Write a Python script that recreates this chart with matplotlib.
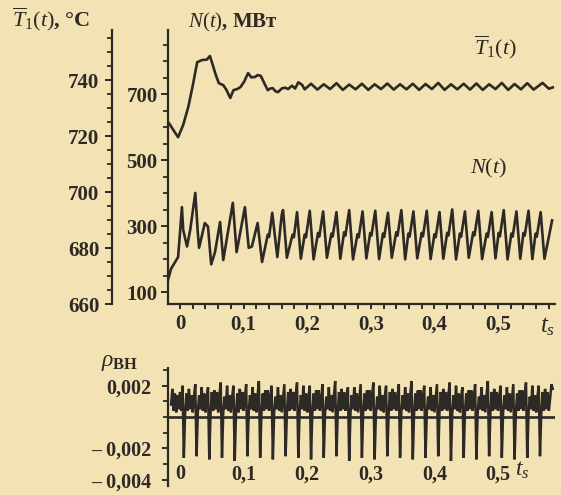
import numpy as np
import matplotlib
matplotlib.use("Agg")
import matplotlib.pyplot as plt
from matplotlib.ticker import MultipleLocator, FixedLocator, FixedFormatter

plt.rcParams['font.family'] = ['Liberation Serif', 'DejaVu Serif']
plt.rcParams['mathtext.fontset'] = 'custom'
plt.rcParams['mathtext.rm'] = 'Liberation Serif'
plt.rcParams['mathtext.it'] = 'Liberation Serif:italic'
plt.rcParams['mathtext.bf'] = 'Liberation Serif:bold'

BG = '#f3e2b3'
INK = '#2d2925'

# ---------------- data ----------------
# mean temperature T1(t), degC
t_T = [-0.017, -0.010, -0.003, 0.005, 0.013, 0.020, 0.027, 0.035, 0.042, 0.047,
       0.052, 0.056, 0.061, 0.068, 0.073, 0.079, 0.084, 0.090, 0.095, 0.101,
       0.107, 0.112, 0.118, 0.122, 0.127, 0.134, 0.138, 0.142, 0.146, 0.150,
       0.154, 0.160, 0.165, 0.170, 0.176, 0.181, 0.186, 0.192, 0.196,
       0.206, 0.216, 0.226, 0.236, 0.246, 0.256, 0.266, 0.276, 0.286, 0.296,
       0.306, 0.316, 0.326, 0.336, 0.346, 0.356, 0.366, 0.376, 0.386, 0.396,
       0.406, 0.416, 0.426, 0.436, 0.446, 0.456, 0.466, 0.476, 0.486, 0.496,
       0.506, 0.516, 0.526, 0.536, 0.546, 0.556, 0.570, 0.580, 0.586]
T_vals = [724.5, 722.0, 719.6, 724.0, 730.4, 738.0, 746.4, 747.2, 747.3, 748.6,
          745.0, 742.0, 738.9, 738.2, 736.5, 733.6, 736.4, 736.8, 737.5, 739.5,
          742.5, 741.0, 741.1, 741.8, 741.5, 738.2, 736.4, 737.0, 737.1, 736.0,
          735.7, 737.0, 737.3, 736.8, 738.0, 737.0, 739.2, 738.3, 736.7,
          738.7, 736.6, 738.5, 736.8, 738.9, 736.5, 738.4, 736.7, 738.7, 736.5,
          738.5, 736.8, 738.8, 736.6, 738.5, 736.7, 738.7, 736.5, 738.6, 736.8,
          739.0, 736.5, 738.5, 736.7, 738.7, 736.6, 738.8, 736.5, 738.5, 736.8,
          739.0, 736.5, 738.6, 736.7, 738.9, 736.6, 739.0, 736.9, 737.4]

# power N(t), MW
t_N = [-0.019, -0.014, -0.003, 0.003, 0.005, 0.011, 0.016, 0.024, 0.028, 0.030,
       0.039, 0.044, 0.049, 0.055, 0.063, 0.068, 0.083, 0.089, 0.102, 0.108,
       0.113, 0.122, 0.129, 0.138, 0.140, 0.145, 0.153, 0.160, 0.162, 0.168,
       0.177, 0.179, 0.184, 0.190,
       0.196, 0.198, 0.204, 0.210, 0.217, 0.219, 0.225, 0.231,
       0.238, 0.240, 0.246, 0.252, 0.258, 0.260, 0.266, 0.272,
       0.279, 0.281, 0.287, 0.293, 0.299, 0.301, 0.307, 0.313,
       0.319, 0.321, 0.327, 0.333, 0.340, 0.342, 0.348, 0.354,
       0.359, 0.361, 0.367, 0.373, 0.380, 0.382, 0.388, 0.394,
       0.400, 0.402, 0.408, 0.414, 0.420, 0.422, 0.428, 0.434,
       0.440, 0.442, 0.448, 0.454, 0.461, 0.463, 0.469, 0.475,
       0.482, 0.484, 0.490, 0.496, 0.501, 0.503, 0.509, 0.515,
       0.521, 0.523, 0.529, 0.535, 0.540, 0.542, 0.548, 0.554,
       0.559, 0.561, 0.567, 0.573, 0.580, 0.585]
N_vals = [137, 172, 207, 358, 289, 239, 289, 401, 280, 235,
          310, 299, 185, 222, 313, 198, 371, 222, 358, 235,
          239, 310, 192, 275, 268, 341, 207, 336, 349, 205,
          275, 267, 343, 202,
          275, 267, 347, 200, 280, 269, 345, 205,
          278, 269, 343, 202, 282, 272, 349, 200,
          276, 267, 345, 203, 280, 272, 347, 201,
          278, 268, 341, 205, 282, 272, 349, 200,
          278, 269, 345, 203, 280, 270, 347, 201,
          276, 267, 343, 202, 280, 272, 351, 200,
          278, 269, 345, 205, 282, 273, 347, 201,
          278, 268, 343, 203, 280, 270, 349, 200,
          278, 269, 345, 202, 280, 272, 347, 201,
          278, 269, 343, 202, 269, 318]

# external reactivity rho_BH (units of 1e-3), sampled every 0.002 s from -0.014 s
rho_t0, rho_dt = -0.014, 0.002
rho_e3 = [
    [0.8, 1.8, 0.4, 1.5, 0.3, 1.4, 0.5, 1.6, 0.4, 2.0],
    [-2.6, 0.2, 1.5, 0.4, 1.8, 0.5, 1.4, 0.3, 1.3, 2.1],
    [-2.5, 0.3, 1.4, 0.5, 1.9, 0.4, 1.5, 0.3, 1.2, 1.9],
    [-2.7, 0.2, 1.6, 0.4, 1.7, 0.5, 1.6, 0.3, 1.4, 2.2],
    [-2.6, 0.3, 1.3, 0.5, 2.0, 0.4, 1.4, 0.3, 1.3, 2.0],
    [-2.8, 0.2, 1.5, 0.3, 1.8, 0.5, 1.6, 0.4, 1.2, 2.1],
    [-2.5, 0.3, 1.4, 0.5, 1.9, 0.4, 1.5, 0.3, 1.4, 2.3],
    [-2.6, 0.2, 1.5, 0.4, 1.7, 0.5, 1.7, 0.4, 1.3, 2.0],
    [-2.7, 0.3, 1.3, 0.5, 1.9, 0.4, 1.4, 0.3, 1.2, 2.1],
    [-2.5, 0.2, 1.6, 0.4, 1.8, 0.5, 1.6, 0.4, 1.4, 2.2],
    [-2.6, 0.3, 1.4, 0.5, 2.0, 0.4, 1.5, 0.3, 1.3, 2.0],
    [-2.7, 0.2, 1.5, 0.4, 1.7, 0.5, 1.7, 0.4, 1.2, 2.1],
    [-2.6, 0.2, 1.3, 0.5, 1.9, 0.4, 1.4, 0.3, 1.4, 2.3],
    [-2.5, 0.3, 1.6, 0.4, 1.8, 0.5, 1.6, 0.4, 1.3, 1.9],
    [-2.8, 0.2, 1.4, 0.5, 1.9, 0.4, 1.5, 0.3, 1.2, 2.1],
    [-2.6, 0.3, 1.5, 0.4, 1.7, 0.5, 1.7, 0.4, 1.4, 2.2],
    [-2.7, 0.2, 1.3, 0.5, 2.0, 0.4, 1.4, 0.3, 1.3, 2.0],
    [-2.5, 0.2, 1.6, 0.4, 1.8, 0.5, 1.6, 0.4, 1.2, 2.1],
    [-2.6, 0.3, 1.4, 0.5, 1.9, 0.4, 1.5, 0.3, 1.4, 2.3],
    [-2.7, 0.2, 1.5, 0.4, 1.7, 0.5, 1.7, 0.4, 1.3, 2.0],
    [-2.6, 0.2, 1.3, 0.5, 1.9, 0.4, 1.4, 0.3, 1.2, 2.1],
    [-2.5, 0.3, 1.6, 0.4, 1.8, 0.5, 1.6, 0.4, 1.4, 2.2],
    [-2.8, 0.2, 1.4, 0.5, 2.0, 0.4, 1.5, 0.3, 1.3, 1.9],
    [-2.6, 0.3, 1.5, 0.4, 1.7, 0.5, 1.7, 0.4, 1.2, 2.1],
    [-2.7, 0.2, 1.3, 0.5, 1.9, 0.4, 1.4, 0.3, 1.4, 2.3],
    [-2.5, 0.2, 1.6, 0.4, 1.8, 0.5, 1.6, 0.4, 1.3, 2.0],
    [-2.6, 0.3, 1.4, 0.5, 1.9, 0.4, 1.5, 0.3, 1.2, 2.1],
    [-2.7, 0.2, 1.5, 0.4, 1.7, 0.5, 1.7, 0.4, 1.4, 2.2],
    [-2.6, 0.3, 1.3, 0.5, 2.0, 0.4, 1.4, 0.3, 1.3, 2.0],
    [-2.5, 0.2, 1.6, 0.4, 1.8, 0.5, 1.6, 0.4, 1.2, 2.1],
    [1.8],
]

x_ticks = [0.0, 0.1, 0.2, 0.3, 0.4, 0.5]
x_tick_labels = ["0", "0,1", "0,2", "0,3", "0,4", "0,5"]
T_ticks = [660, 680, 700, 720, 740]
N_ticks = [100, 300, 500, 700]
rho_ticks = [-0.004, -0.002, 0.002]
rho_tick_labels = ["\u2013 0,004", "\u2013 0,002", "0,002"]

# ---------------- figure ----------------
W, H = 561, 495
fig = plt.figure(figsize=(W / 100, H / 100), dpi=100, facecolor=BG)

def fx(px):
    return px / W

def fy(py):
    return 1 - py / H

XLIM = (-0.0189, 0.5896)
LW = 1.9

# top panel: N on the inner axis, T on the outer axis
ax = fig.add_axes([fx(168), fy(304), (555 - 168) / W, (304 - 30) / H])
ax.set_facecolor(BG)
ax.set_xlim(*XLIM)
ax.set_ylim(65, 894)
for s in ('top', 'right'):
    ax.spines[s].set_visible(False)
for s in ('left', 'bottom'):
    ax.spines[s].set_linewidth(1.6)
    ax.spines[s].set_color(INK)
ax.plot(t_N, N_vals, color=INK, lw=LW, solid_joinstyle='round')
ax.yaxis.set_major_locator(FixedLocator(N_ticks))
ax.yaxis.set_minor_locator(MultipleLocator(50))
ax.xaxis.set_major_locator(FixedLocator(x_ticks))
ax.xaxis.set_major_formatter(FixedFormatter(x_tick_labels))
ax.xaxis.set_minor_locator(MultipleLocator(0.02))
ax.tick_params(axis='y', which='major', direction='out', length=5, width=1.4,
               color=INK, labelsize=15, pad=2.5, labelcolor=INK)
ax.tick_params(axis='y', which='minor', direction='out', length=3.5, width=1.3, color=INK)
ax.tick_params(axis='x', which='both', direction='out', length=3.5, width=1.4,
               color=INK, labelsize=15, pad=4, labelcolor=INK)
for lab in ax.get_xticklabels() + ax.get_yticklabels():
    lab.set_fontweight('bold')

ax2 = ax.twinx()
ax2.set_ylim(660, 757.9)
ax2.set_xlim(*XLIM)
for s in ('top', 'right', 'bottom'):
    ax2.spines[s].set_visible(False)
ax2.spines['left'].set_visible(True)
ax2.spines['left'].set_position(('outward', 40))
ax2.spines['left'].set_linewidth(1.6)
ax2.spines['left'].set_color(INK)
ax2.yaxis.set_ticks_position('left')
ax2.yaxis.set_label_position('left')
ax2.plot(t_T, T_vals, color=INK, lw=LW, solid_joinstyle='round')
ax2.yaxis.set_major_locator(FixedLocator(T_ticks))
ax2.yaxis.set_minor_locator(MultipleLocator(5))
ax2.tick_params(axis='y', which='major', direction='out', length=5, width=1.4,
                color=INK, labelsize=15, pad=4.5, labelcolor=INK)
ax2.tick_params(axis='y', which='minor', direction='out', length=3.5, width=1.3, color=INK)
for lab in ax2.get_yticklabels():
    lab.set_fontweight('bold')

# bottom panel: rho
ax3 = fig.add_axes([fx(168), fy(486), (555 - 168) / W, (486 - 368) / H])
ax3.set_facecolor(BG)
ax3.set_xlim(*XLIM)
ax3.set_ylim(-0.0044, 0.00313)
for s in ('top', 'right', 'bottom'):
    ax3.spines[s].set_visible(False)
ax3.spines['left'].set_linewidth(1.6)
ax3.spines['left'].set_color(INK)
rho_vals = np.concatenate([np.array(r, dtype=float) for r in rho_e3]) * 1e-3
rho_t = rho_t0 + rho_dt * np.arange(rho_vals.size)
ax3.plot(rho_t, rho_vals, color=INK, lw=1.8, solid_joinstyle='miter')
ax3.axhline(0, color=INK, lw=1.9)
ax3.yaxis.set_major_locator(FixedLocator(rho_ticks))
ax3.yaxis.set_major_formatter(FixedFormatter(rho_tick_labels))
ax3.yaxis.set_minor_locator(MultipleLocator(0.001))
ax3.xaxis.set_major_locator(FixedLocator(x_ticks))
ax3.xaxis.set_major_formatter(FixedFormatter(x_tick_labels))
ax3.tick_params(axis='y', which='major', direction='out', length=4, width=1.4,
                color=INK, labelsize=14.5, pad=8, labelcolor=INK)
ax3.tick_params(axis='y', which='minor', direction='out', length=3.5, width=1.3, color=INK)
ax3.tick_params(axis='x', which='both', length=0, labelsize=14.5, pad=-15.5, labelcolor=INK)
for lab in ax3.get_xticklabels() + ax3.get_yticklabels():
    lab.set_fontweight('bold')

# ---------------- labels ----------------
fig.text(fx(12), fy(26), r"$\overline{T}_1(t)$, °C", fontsize=16, color=INK,
         ha='left', va='baseline', fontweight='bold')
fig.text(fx(188), fy(27), r"$N(t)$, МВт", fontsize=15, color=INK,
         ha='left', va='baseline', fontweight='bold')
fig.text(fx(474), fy(54), r"$\overline{T}_1(t)$", fontsize=16, color=INK,
         ha='left', va='baseline')
fig.text(fx(470), fy(173), r"$N(t)$", fontsize=16, color=INK,
         ha='left', va='baseline')
fig.text(fx(540), fy(327), r"$t_s$", fontsize=18, color=INK,
         ha='left', va='center')
fig.text(fx(515), fy(470), r"$t_s$", fontsize=17, color=INK,
         ha='left', va='center')
fig.text(fx(101), fy(366), r"$\rho_{\mathbf{ВН}}$", fontsize=17, color=INK,
         ha='left', va='baseline')

fig.savefig("out.png", dpi=100, facecolor=BG)
